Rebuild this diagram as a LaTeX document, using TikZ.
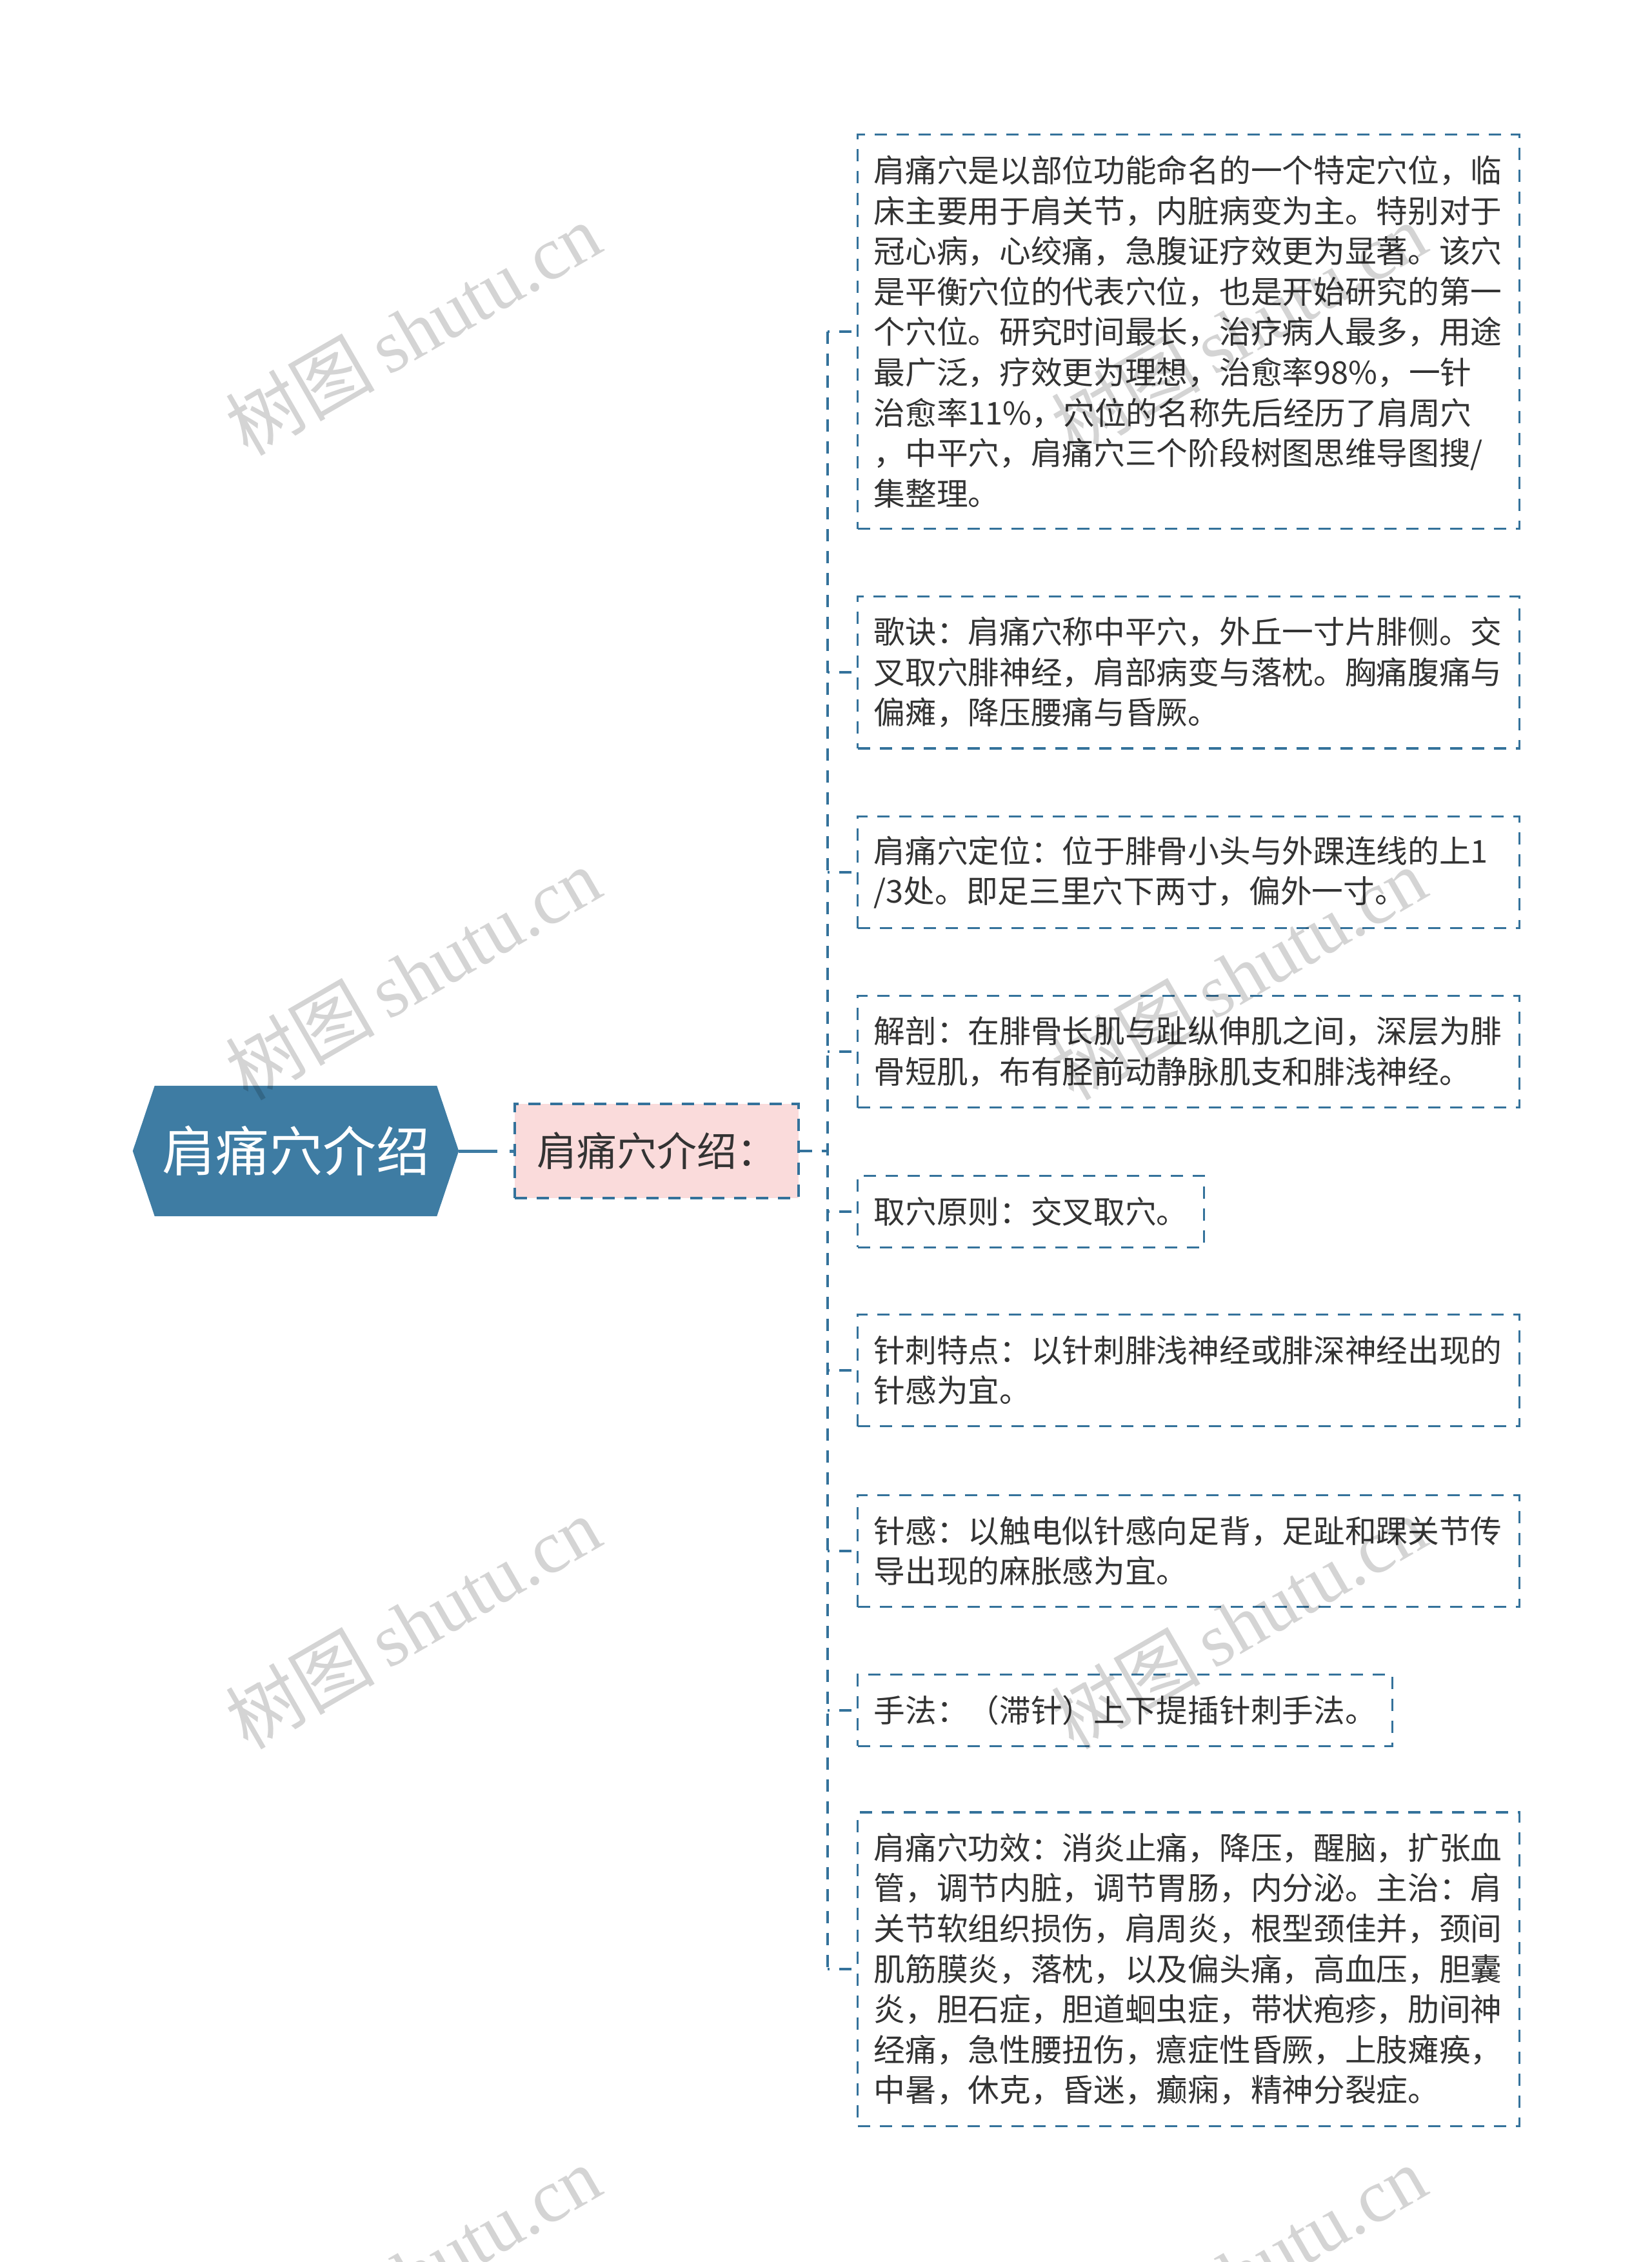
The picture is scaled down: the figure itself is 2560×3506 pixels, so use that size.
\documentclass[tikz,border=0pt]{standalone}
\usepackage{fontspec}
\setmainfont{Liberation Serif}
\newfontfamily\cjk{Noto Sans CJK SC}
\usetikzlibrary{backgrounds}
\definecolor{mainblue}{RGB}{62,124,163}
\definecolor{lineblue}{RGB}{52,114,155}
\definecolor{pinkfill}{RGB}{250,219,219}
\definecolor{txt}{RGB}{51,51,51}
\begin{document}
\begin{tikzpicture}[x=1pt,y=-1pt,
  dsh/.style={draw=lineblue, line width=3.2pt, dash pattern=on 19pt off 15pt},
  stub/.style={dsh, dash phase=16pt},
  leaf/.style={dsh, anchor=west, inner xsep=25pt, inner ysep=0pt, align=left,
    text=txt, font=\cjk\fontsize{48.7pt}{62.6pt}\selectfont,
    minimum height={#1*62.6+48}},
  wide/.style={text width=976pt},
  wm/.style={text=black, text opacity=0.17, rotate=30, font=\fontsize{116pt}{116pt}\selectfont}
]
\useasboundingbox (0,0) rectangle (2560,3506);

% root hexagon
\node[minimum width=505pt, minimum height=202pt, inner sep=0pt, text=white,
  font=\cjk\fontsize{83pt}{83pt}\selectfont] (root) at (458.5,1784) {肩痛穴介绍};
\begin{pgfonlayer}{background}
\fill[mainblue] (root.west) -- ([xshift=34pt]root.north west) -- ([xshift=-34pt]root.north east)
  -- (root.east) -- ([xshift=-34pt]root.south east) -- ([xshift=34pt]root.south west) -- cycle;
\end{pgfonlayer}

% level-1 node
\node[dsh, fill=pinkfill, minimum width=440pt, minimum height=146pt, inner sep=0pt, text=txt,
  font=\cjk\fontsize{62pt}{62pt}\selectfont] (sub) at (1018,1784) {肩痛穴介绍：};

\draw[draw=mainblue, line width=5pt, dash pattern=on 60pt off 19pt] (root.east) -- (sub.west);
\coordinate (tk) at (1283,1784);
\draw[dsh] (sub.east) -- (tk);

% leaves
\node[leaf=9, wide] (c1) at (1328,514) {肩痛穴是以部位功能命名的一个特定穴位，临\\床主要用于肩关节，内脏病变为主。特别对于\\冠心病，心绞痛，急腹证疗效更为显著。该穴\\是平衡穴位的代表穴位，也是开始研究的第一\\个穴位。研究时间最长，治疗病人最多，用途\\最广泛，疗效更为理想，治愈率98\%，一针\\治愈率11\%，穴位的名称先后经历了肩周穴\\，中平穴，肩痛穴三个阶段树图思维导图搜/\\集整理。};
\node[leaf=3, wide] (c2) at (1328,1042) {歌诀：肩痛穴称中平穴，外丘一寸片腓侧。交\\叉取穴腓神经，肩部病变与落枕。胸痛腹痛与\\偏瘫，降压腰痛与昏厥。};
\node[leaf=2, wide] (c3) at (1328,1352) {肩痛穴定位：位于腓骨小头与外踝连线的上1\\/3处。即足三里穴下两寸，偏外一寸。};
\node[leaf=2, wide] (c4) at (1328,1630) {解剖：在腓骨长肌与趾纵伸肌之间，深层为腓\\骨短肌，布有胫前动静脉肌支和腓浅神经。};
\node[leaf=1] (c5) at (1328,1878) {取穴原则：交叉取穴。};
\node[leaf=2, wide] (c6) at (1328,2124) {针刺特点：以针刺腓浅神经或腓深神经出现的\\针感为宜。};
\node[leaf=2, wide] (c7) at (1328,2404) {针感：以触电似针感向足背，足趾和踝关节传\\导出现的麻胀感为宜。};
\node[leaf=1] (c8) at (1328,2651) {手法：（滞针）上下提插针刺手法。};
\node[leaf=7, wide] (c9) at (1328,3052) {肩痛穴功效：消炎止痛，降压，醒脑，扩张血\\管，调节内脏，调节胃肠，内分泌。主治：肩\\关节软组织损伤，肩周炎，根型颈佳并，颈间\\肌筋膜炎，落枕，以及偏头痛，高血压，胆囊\\炎，胆石症，胆道蛔虫症，带状疱疹，肋间神\\经痛，急性腰扭伤，癔症性昏厥，上肢瘫痪，\\中暑，休克，昏迷，癫痫，精神分裂症。};

% trunk and stubs
\draw[dsh] (c1.west -| tk) -- (c9.west -| tk);
\foreach \c in {c1,c2,c3,c4,c5,c6,c7,c8,c9}{
  \draw[stub] (\c.west -| tk) -- (\c.west);
}

% watermarks
\foreach \x in {640,1920}{
  \foreach \y in {510,1509,2515,3521}{
    \node[wm] (wm-\x-\y) at (\x,\y) {{\cjk 树图}\,shutu.cn};
  }
}
\end{tikzpicture}
\end{document}
